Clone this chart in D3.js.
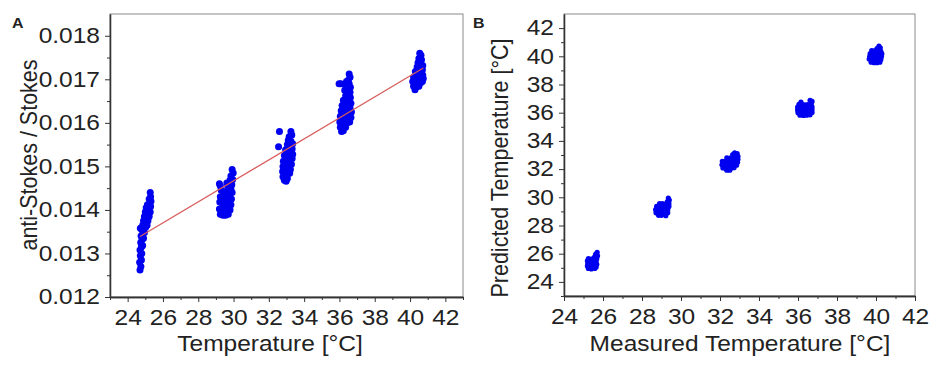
<!DOCTYPE html>
<html>
<head>
<meta charset="utf-8">
<script src="https://cdn.jsdelivr.net/npm/d3@7"></script>
<style>
  body { margin: 0; background: #fff; }
  text { font-family: "Liberation Sans", Arial, sans-serif; fill: #222; }
</style>
</head>
<body>
<div id="chart"></div>
<script>
// ------------------------------------------------------------------
// Data
// ------------------------------------------------------------------

// Panel A: temperature [°C] vs anti-Stokes / Stokes ratio
var ratio25 = [
  [24.70,0.01262],[24.75,0.01270],[24.68,0.01280],[24.78,0.01285],[24.72,0.01295],[24.80,0.01300],
  [24.70,0.01308],[24.78,0.01315],[24.85,0.01318],[24.74,0.01325],[24.82,0.01332],[24.90,0.01335],
  [24.76,0.01340],[24.86,0.01345],[24.95,0.01348],[24.72,0.01358],[24.80,0.01355],[24.92,0.01358],
  [25.02,0.01360],[24.85,0.01365],[24.98,0.01368],[25.10,0.01365],[24.90,0.01375],[25.05,0.01378],
  [25.15,0.01375],[24.95,0.01385],[25.10,0.01388],[25.22,0.01385],[25.00,0.01395],[25.15,0.01398],
  [25.28,0.01395],[25.05,0.01405],[25.20,0.01405],[25.30,0.01408],[25.12,0.01412],[25.25,0.01415],
  [25.32,0.01420],[25.22,0.01425],[25.30,0.01430],[25.28,0.01440]
];
var ratio30 = [
  [29.92,0.01493],[29.98,0.01485],[29.85,0.01478],[29.95,0.01470],[29.80,0.01468],
  [29.62,0.01462],[29.75,0.01460],[29.90,0.01458],[29.68,0.01452],[29.85,0.01448],
  [29.20,0.01460],[29.25,0.01455],
  [29.30,0.01445],[29.45,0.01442],[29.60,0.01440],[29.75,0.01438],[29.92,0.01440],
  [29.25,0.01430],[29.40,0.01428],[29.55,0.01426],[29.70,0.01424],[29.88,0.01425],
  [29.22,0.01418],[29.38,0.01415],[29.52,0.01412],[29.68,0.01410],[29.85,0.01412],
  [29.20,0.01402],[29.35,0.01400],[29.50,0.01398],[29.65,0.01398],[29.80,0.01400],
  [29.25,0.01390],[29.40,0.01388],[29.55,0.01388],[29.70,0.01390]
];
var ratio33 = [
  [32.60,0.01580],[32.55,0.01545],
  [33.25,0.01580],[33.30,0.01572],[33.15,0.01568],
  [33.10,0.01560],[33.25,0.01558],[33.35,0.01552],[33.05,0.01550],[33.20,0.01545],[33.32,0.01540],
  [32.95,0.01538],[33.10,0.01535],[33.25,0.01532],[33.35,0.01528],[32.88,0.01525],[33.02,0.01522],
  [33.18,0.01520],[33.32,0.01518],[32.82,0.01512],[32.98,0.01510],[33.12,0.01508],[33.28,0.01505],
  [32.80,0.01500],[32.95,0.01497],[33.10,0.01495],[33.22,0.01493],[32.78,0.01488],[32.92,0.01485],
  [33.05,0.01482],[33.18,0.01484],[32.80,0.01476],[32.92,0.01473],[33.05,0.01472],[32.88,0.01468],
  [32.98,0.01466]
];
var ratio36 = [
  [36.55,0.01712],[36.60,0.01705],[36.50,0.01698],
  [35.98,0.01690],[36.08,0.01690],
  [36.40,0.01695],[36.55,0.01690],[36.35,0.01685],[36.50,0.01680],[36.62,0.01682],[36.30,0.01675],
  [36.45,0.01672],[36.60,0.01670],[36.35,0.01662],[36.50,0.01660],[36.62,0.01658],
  [36.22,0.01652],[36.38,0.01650],[36.55,0.01648],[36.65,0.01645],[36.15,0.01640],[36.30,0.01638],
  [36.45,0.01636],[36.60,0.01634],[36.10,0.01628],[36.25,0.01626],[36.40,0.01624],[36.55,0.01622],
  [36.68,0.01625],[36.05,0.01615],[36.20,0.01614],[36.35,0.01612],[36.50,0.01610],[36.65,0.01612],
  [36.02,0.01602],[36.15,0.01600],[36.30,0.01598],[36.45,0.01600],[36.58,0.01602],
  [36.05,0.01590],[36.20,0.01588],[36.35,0.01590],[36.12,0.01580],[36.22,0.01582]
];
var ratio40 = [
  [40.55,0.01760],[40.62,0.01755],[40.50,0.01748],[40.65,0.01745],[40.45,0.01738],[40.60,0.01735],
  [40.72,0.01732],[40.40,0.01728],[40.55,0.01725],[40.70,0.01722],[40.30,0.01718],[40.45,0.01715],
  [40.60,0.01712],[40.72,0.01710],[40.20,0.01705],[40.35,0.01703],[40.50,0.01702],[40.65,0.01700],
  [40.75,0.01702],[40.15,0.01695],[40.30,0.01692],[40.45,0.01690],[40.60,0.01692],[40.70,0.01695],
  [40.20,0.01684],[40.35,0.01682],[40.50,0.01684],[40.28,0.01676]
];

// linear fit drawn through panel A
var fitT = [24.70, 40.75];
var fitRatio = [0.01339, 0.01726];

// Panel B: measured vs predicted temperature [°C]
var pred25 = [
  [25.70,26.10],[25.62,25.95],[25.72,25.85],[25.55,25.75],[25.68,25.65],[25.25,25.65],[25.40,25.62],
  [25.20,25.50],[25.35,25.48],[25.50,25.50],[25.65,25.45],[25.22,25.30],[25.38,25.30],[25.52,25.28],
  [25.68,25.25],[25.20,25.12],[25.35,25.10],[25.50,25.08],[25.65,25.05],[25.25,24.95],[25.40,24.92],
  [25.58,24.95]
];
var pred29 = [
  [29.35,29.95],[29.40,29.80],[29.30,29.70],[28.90,29.55],[29.05,29.55],[29.20,29.52],[29.38,29.55],
  [28.75,29.35],[28.90,29.35],[29.05,29.32],[29.20,29.30],[29.38,29.35],[28.70,29.12],[28.85,29.12],
  [29.00,29.10],[29.15,29.08],[29.32,29.12],[28.72,28.90],[28.88,28.88],[29.02,28.88],[29.18,28.85],
  [29.32,28.90],[28.85,28.72],[29.00,28.72],[29.22,28.70]
];
var pred32 = [
  [32.75,33.15],[32.88,33.10],[32.65,33.02],[32.80,32.95],[32.92,32.90],[32.35,32.80],[32.50,32.78],
  [32.65,32.75],[32.80,32.72],[32.92,32.70],[32.12,32.55],[32.28,32.55],[32.45,32.52],[32.60,32.50],
  [32.75,32.50],[32.90,32.48],[32.10,32.30],[32.25,32.30],[32.40,32.28],[32.55,32.28],[32.70,32.25],
  [32.85,32.28],[32.15,32.08],[32.30,32.05],[32.45,32.05],[32.60,32.08],[32.72,32.10],[32.35,31.92],
  [32.50,31.92]
];
var pred36 = [
  [36.15,36.75],[36.62,36.88],[36.72,36.80],[36.05,36.60],[36.20,36.60],[36.35,36.55],[36.50,36.58],
  [36.68,36.62],[35.98,36.40],[36.12,36.40],[36.28,36.38],[36.42,36.38],[36.58,36.40],[36.72,36.42],
  [35.98,36.20],[36.12,36.18],[36.28,36.18],[36.42,36.20],[36.58,36.20],[36.72,36.22],[36.00,36.00],
  [36.15,35.98],[36.30,35.98],[36.45,36.00],[36.60,36.00],[36.72,36.02],[36.10,35.82],[36.28,35.80],
  [36.45,35.82],[36.62,35.85]
];
var pred40 = [
  [40.15,40.72],[40.22,40.60],[40.05,40.55],[39.78,40.40],[39.92,40.38],[40.08,40.38],[40.25,40.35],
  [39.70,40.20],[39.85,40.18],[40.00,40.18],[40.15,40.15],[40.30,40.18],[39.68,40.00],[39.82,39.98],
  [39.98,39.98],[40.12,39.95],[40.28,39.98],[39.65,39.80],[39.80,39.78],[39.95,39.78],[40.10,39.75],
  [40.25,39.78],[39.75,39.58],[39.90,39.55],[40.05,39.55],[40.20,39.58]
];

// tick values
var ticksTempA = [24, 26, 28, 30, 32, 34, 36, 38, 40, 42];
var minorTempA = [23, 25, 27, 29, 31, 33, 35, 37, 39, 41, 43];
var ticksRatio = [0.012, 0.013, 0.014, 0.015, 0.016, 0.017, 0.018];
var minorRatio = [0.0125, 0.0135, 0.0145, 0.0155, 0.0165, 0.0175];
var ticksTempB = [24, 26, 28, 30, 32, 34, 36, 38, 40, 42];
var minorTempBx = [25, 27, 29, 31, 33, 35, 37, 39, 41];
var minorTempBy = [23, 25, 27, 29, 31, 33, 35, 37, 39, 41];


// ------------------------------------------------------------------
// SVG
// ------------------------------------------------------------------
var svgWidth = 936;
var svgHeight = 367;
var fontSize = 21.5;
var stretch = 1.14;   // the figure's lettering is a bit wide

var svg = d3.select("#chart")
  .append("svg")
  .attr("width", svgWidth)
  .attr("height", svgHeight);

// draws one framed panel with major + minor ticks
function drawPanel(p) {
  var x = d3.scaleLinear().domain(p.xDomain).range([p.left, p.right]);
  var y = d3.scaleLinear().domain(p.yDomain).range([p.bottom, p.top]);
  var g = svg.append("g");

  // frame (top / right in grey)
  g.append("rect")
    .attr("x", p.left).attr("y", p.top)
    .attr("width", p.right - p.left).attr("height", p.bottom - p.top)
    .attr("fill", "none").attr("stroke", "#8a8a8a").attr("stroke-width", 1);

  // dots
  p.clusters.forEach(function (c) {
    g.append("g").selectAll("circle")
      .data(c)
      .enter()
      .append("circle")
      .attr("cx", function (d) { return x(d[0]); })
      .attr("cy", function (d) { return y(d[1]); })
      .attr("r", p.r)
      .attr("fill", "#0000f0");
  });

  // fit line
  if (p.fit) {
    g.append("path")
      .datum(d3.zip(p.fit[0], p.fit[1]))
      .attr("fill", "none")
      .attr("stroke", "#d85a5a")
      .attr("stroke-width", 1.2)
      .attr("d", d3.line().x(function (d) { return x(d[0]); }).y(function (d) { return y(d[1]); }));
  }

  // axes
  var xAxis = d3.axisBottom(x).tickValues(p.xTicks).tickSize(5).tickSizeOuter(0).tickPadding(8);
  var xMinor = d3.axisBottom(x).tickValues(p.xMinor).tickSize(3).tickSizeOuter(0).tickFormat("");
  var yAxis = d3.axisLeft(y).tickValues(p.yTicks).tickSize(5).tickSizeOuter(0).tickPadding(3.8)
    .tickFormat(p.yFormat);
  var yMinor = d3.axisLeft(y).tickValues(p.yMinor).tickSize(3).tickSizeOuter(0).tickFormat("");

  [xAxis, xMinor].forEach(function (a) {
    g.append("g").attr("class", "axis").attr("transform", "translate(0," + p.bottom + ")").call(a);
  });
  [yAxis, yMinor].forEach(function (a) {
    g.append("g").attr("class", "axis").attr("transform", "translate(" + p.left + ",0)").call(a);
  });

  g.selectAll(".axis path").attr("stroke", "#333").attr("stroke-width", 1.3);
  g.selectAll(".axis line").attr("stroke", "#333");
  g.selectAll(".axis text").attr("font-size", fontSize).attr("fill", "#222")
    .attr("transform", "scale(" + stretch + ",1)")
    .style("font-family", "'Liberation Sans', Arial, sans-serif");

  // titles
  g.append("text")
    .attr("transform", "translate(" + p.xTitleX + "," + p.xTitleY + ") scale(" + stretch + ",1)")
    .attr("text-anchor", "middle").attr("font-size", fontSize)
    .text(p.xTitle);
  g.append("text")
    .attr("transform", "translate(" + p.yTitleX + "," + p.yTitleY + ") rotate(-90) scale(1," + stretch + ")")
    .attr("text-anchor", "middle").attr("font-size", fontSize)
    .text(p.yTitle);

  // panel letter
  g.append("text")
    .attr("transform", "translate(" + p.letterX + ",28) scale(" + stretch + ",1)")
    .attr("font-size", 14).attr("font-weight", "bold")
    .text(p.letter);
}

drawPanel({
  letter: "A", letterX: 12,
  left: 110, right: 463, top: 14, bottom: 297,
  xDomain: [23, 43], yDomain: [0.012, 0.0185],
  xTicks: ticksTempA, xMinor: minorTempA,
  yTicks: ticksRatio, yMinor: minorRatio, yFormat: d3.format(".3f"),
  clusters: [ratio25, ratio30, ratio33, ratio36, ratio40],
  r: 3.5,
  fit: [fitT, fitRatio],
  xTitle: "Temperature [°C]", xTitleX: 270, xTitleY: 351,
  yTitle: "anti-Stokes / Stokes", yTitleX: 37, yTitleY: 155
});

drawPanel({
  letter: "B", letterX: 473,
  left: 564, right: 915, top: 14, bottom: 296,
  xDomain: [24, 42], yDomain: [23, 43],
  xTicks: ticksTempB, xMinor: minorTempBx,
  yTicks: ticksTempB, yMinor: minorTempBy, yFormat: d3.format("d"),
  clusters: [pred25, pred29, pred32, pred36, pred40],
  r: 2.6,
  fit: null,
  xTitle: "Measured Temperature [°C]", xTitleX: 740, xTitleY: 351,
  yTitle: "Predicted Temperature [°C]", yTitleX: 508, yTitleY: 168
});
</script>
</body>
</html>
